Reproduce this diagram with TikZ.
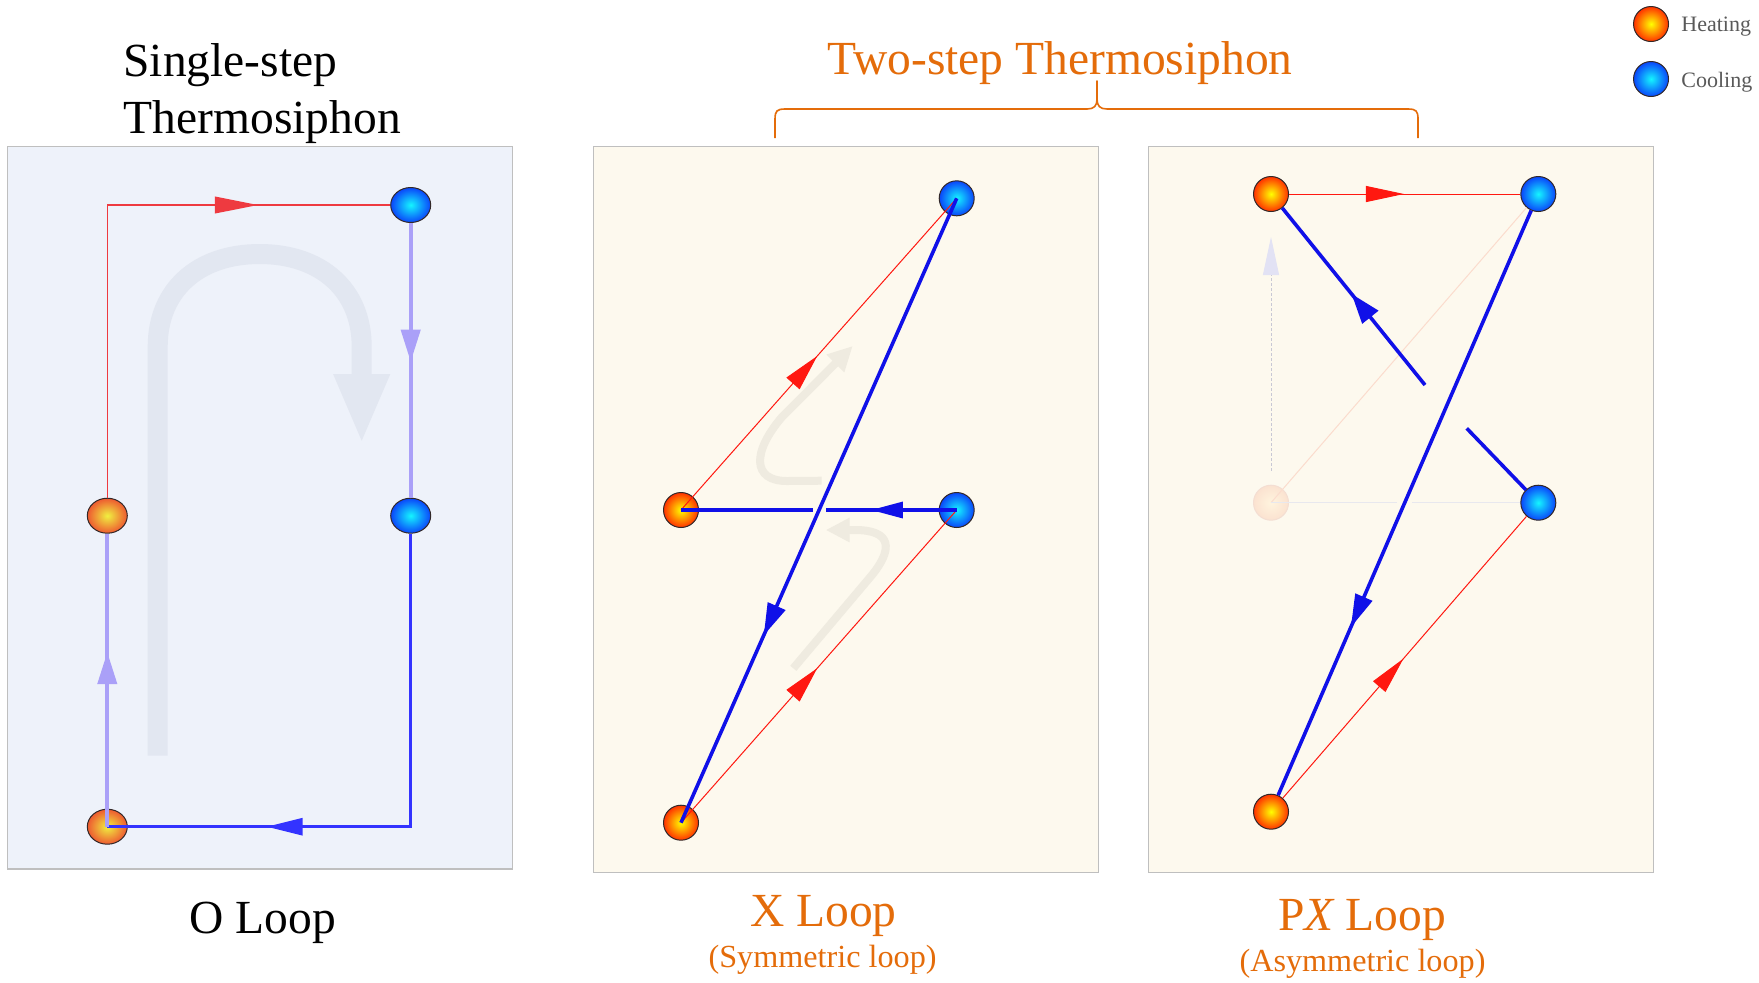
\documentclass[tikz,border=0pt]{standalone}
\usepackage{fontspec}
\setmainfont{Liberation Serif}
\usetikzlibrary{arrows.meta,decorations.markings,shapes.geometric}

\definecolor{bgO}{RGB}{238,242,250}
\definecolor{bgX}{RGB}{253,249,238}
\definecolor{frameC}{RGB}{191,191,191}
\definecolor{uarrow}{RGB}{226,231,241}
\definecolor{farrow}{RGB}{239,235,224}
\definecolor{ored}{RGB}{238,58,64}
\definecolor{lav}{RGB}{170,160,248}
\definecolor{oblue}{RGB}{51,51,255}
\definecolor{xred}{RGB}{255,24,16}
\definecolor{xblue}{RGB}{16,16,232}
\definecolor{ttl}{RGB}{228,108,10}
\definecolor{legtxt}{RGB}{89,89,89}
\definecolor{ballline}{RGB}{50,40,40}
\definecolor{hin}{RGB}{255,255,0}
\definecolor{hout}{RGB}{255,50,0}
\definecolor{hoin}{RGB}{240,240,64}
\definecolor{hoout}{RGB}{238,90,48}
\definecolor{cin}{RGB}{20,245,255}
\definecolor{cout}{RGB}{10,70,250}
\definecolor{fadein}{RGB}{255,244,222}
\definecolor{fadeout}{RGB}{251,226,208}
\definecolor{fadeline}{RGB}{244,222,210}
\definecolor{fpink}{RGB}{251,220,205}
\definecolor{fgray}{RGB}{232,232,238}
\definecolor{fdot}{RGB}{200,200,212}
\definecolor{flav}{RGB}{226,226,244}

\newcommand\BigTxt{\fontsize{23.75pt}{28pt}\selectfont}
\newcommand\SubTxt{\fontsize{16.1pt}{19pt}\selectfont}
\newcommand\LegTxt{\fontsize{11pt}{13pt}\selectfont}

\tikzset{
  ballH/.style={circle, draw=ballline, line width=0.5pt, inner sep=0pt,
    minimum size=17.5pt, inner color=hin, outer color=hout},
  ballC/.style={circle, draw=ballline, line width=0.5pt, inner sep=0pt,
    minimum size=17.5pt, inner color=cin, outer color=cout},
  ballHO/.style={ellipse, draw=ballline, line width=0.5pt, inner sep=0pt,
    minimum width=20pt, minimum height=17.5pt, inner color=hoin, outer color=hoout},
  ballCO/.style={ellipse, draw=ballline, line width=0.5pt, inner sep=0pt,
    minimum width=20pt, minimum height=17.5pt, inner color=cin, outer color=cout},
  ballF/.style={circle, draw=fadeline, line width=0.5pt, inner sep=0pt,
    minimum size=17.5pt, inner color=fadein, outer color=fadeout},
  panelO/.style={draw=frameC, line width=0.75pt, fill=bgO},
  panelX/.style={draw=frameC, line width=0.75pt, fill=bgX},
  redO/.style={ored, line width=0.6pt},
  lavO/.style={lav, line width=2pt},
  blueO/.style={oblue, line width=1.7pt},
  redX/.style={xred, line width=0.5pt},
  blueX/.style={xblue, line width=1.8pt},
  midtip/.style 2 args={postaction={decorate},
    decoration={markings, mark=at position #1 with {\arrow{#2}}}},
  ttltxt/.style={ttl, inner sep=0pt},
}

\begin{document}
\begin{tikzpicture}[x=0.5pt,y=-0.5pt]
\useasboundingbox (0,0) rectangle (1759,982);

% ---------- panels
\draw[panelO] (7.3,146.7) rectangle (512.7,869);
\draw[panelX] (593.3,146.5) rectangle (1098.3,872.3);
\draw[panelX] (1148.3,146.5) rectangle (1653.3,872.3);

% ---------- titles
\node[anchor=base west, inner sep=0pt, font=\BigTxt] (tsa) at (123,76) {Single-step};
\node[anchor=base west, inner sep=0pt, font=\BigTxt] (tsb) at (123.5,133.3) {Thermosiphon};
\node[anchor=base, ttltxt, font=\BigTxt] (ttwo) at (1060,74) {Two-step Thermosiphon};
\draw[ttl, line width=0.8pt, line join=round]
  (775,138) -- (775,119) .. controls (775,111) and (777,109) .. (785,109)
  -- (1087,109) .. controls (1094,109) and (1097,106) .. (1097,99) -- (1097,81)
  -- (1097,99) .. controls (1097,106) and (1100,109) .. (1107,109)
  -- (1408,109) .. controls (1416,109) and (1418,111) .. (1418,119) -- (1418,138);

% ---------- legend
\node[ballH] (legH) at (1651,24) {};
\node[ballC] (legC) at (1651,79) {};
\node[anchor=base west, inner sep=0pt, legtxt, font=\LegTxt] (legHt) at (1681,31) {Heating};
\node[anchor=base west, inner sep=0pt, legtxt, font=\LegTxt] (legCt) at (1681,87) {Cooling};

% ---------- bottom labels
\node[anchor=base, inner sep=0pt, font=\BigTxt] (labO) at (263,933) {O Loop};
\node[anchor=base, ttltxt, font=\BigTxt] (labX) at (823.3,926) {X Loop};
\node[anchor=base, ttltxt, font=\SubTxt] (subX) at (822.6,967) {(Symmetric loop)};
\node[anchor=base, ttltxt, font=\BigTxt] (labP) at (1362,930) {P{\itshape X} Loop};
\node[anchor=base, ttltxt, font=\SubTxt] (subP) at (1362.5,971) {(Asymmetric loop)};

% ================= O loop
\draw[uarrow, line width=10pt, -{Triangle[length=35pt,width=25.6pt]}]
  (157.7,755.7) -- (157.7,346.7)
  .. controls (157.7,290) and (198,254) .. (259.7,254)
  .. controls (321,254) and (361.7,290) .. (361.7,346.7) -- (361.7,444);

\node[ballCO] (oC1) at (410.7,205) {};
\node[ballHO] (oH2) at (107.3,515.7) {};
\node[ballCO] (oC2) at (410.7,515.7) {};
\node[ballHO] (oH1) at (107.3,826.7) {};

\draw[redO, midtip={0.77}{Triangle[length=21.5pt,width=8.4pt]}] (oH2) |- (oC1);
\draw[lavO, midtip={0.505}{Triangle[length=16pt,width=9.5pt]}] (oC1) -- (oC2);
\draw[blueO, midtip={0.733}{Triangle[length=18pt,width=8.4pt]}] (oC2) |- (oH1.center);
\draw[lavO, midtip={0.596}{Triangle[length=16pt,width=9.5pt]}] (oH1.center) -- (oH2);

% ================= X loop
\draw[farrow, line width=4pt, -{Triangle[length=12.3pt,width=11.7pt]}]
  (821.7,480.7) -- (787,481) .. controls (752,481) and (752,452) .. (782,417) -- (852.7,346);
\draw[farrow, line width=4pt, -{Triangle[length=12pt,width=11.5pt]}]
  (793.3,668.3) -- (872,575) .. controls (893,549) and (892,530) .. (855,530) -- (825.7,530);

\node[ballC] (xCT) at (956.7,198.3) {};
\node[ballH] (xHM) at (681,510) {};
\node[ballC] (xCM) at (956.7,510) {};
\node[ballH] (xHB) at (681,822.7) {};
\coordinate (xgR) at (825.7,510);
\coordinate (xgL) at (812.7,510);

\draw[redX, midtip={0.494}{Triangle[length=18.3pt,width=8.7pt]}] (xHM.center) -- (xCT.center);
\draw[redX, midtip={0.494}{Triangle[length=18.3pt,width=8.7pt]}] (xHB.center) -- (xCM.center);
\draw[blueX, midtip={0.656}{Triangle[length=16pt,width=7.9pt]}] (xCM.center) -- (xgR);
\draw[blueX] (xgL) -- (xHM.center);
\draw[blueX, midtip={0.70}{Triangle[length=16pt,width=9.3pt]}] (xCT.center) -- (xHB.center);

% ================= PX loop
\node[ballH] (pHT) at (1271,194) {};
\node[ballC] (pCT) at (1538.3,194) {};
\node[ballF] (pHF) at (1271,502.7) {};
\node[ballC] (pCM) at (1538.3,502.7) {};
\node[ballH] (pHB) at (1271,811.7) {};
\coordinate (pA) at (1466.7,428.3);
\coordinate (pB) at (1425,385);
\coordinate (pg1) at (1396.7,502.7);
\coordinate (pg2) at (1411.7,502.7);

% faint elements
\draw[fpink, line width=0.5pt] (pHF.center) -- (pCT);
\draw[fgray, line width=0.75pt] (pHF.center) -- (pg1);
\draw[fgray, line width=0.75pt] (pg2) -- (pCM);
\draw[fdot, line width=0.5pt, dash pattern=on 1.5pt off 1pt,
  shorten <=7pt, shorten >=12.5pt,
  -{Triangle[length=19pt,width=8pt,color=flav,fill=flav]}] (pHF) -- (pHT);

\draw[redX, midtip={0.497}{Triangle[length=19pt,width=8pt]}] (pHT) -- (pCT);
\draw[redX, midtip={0.495}{Triangle[length=18.5pt,width=8.1pt]}] (pHB) -- (pCM);
\draw[blueX, midtip={0.713}{Triangle[length=16.5pt,width=8.9pt]}] (pCT) -- (pHB);
\draw[blueX] (pCM) -- (pA);
\draw[blueX, midtip={0.515}{Triangle[length=15pt,width=10pt]}] (pB) -- (pHT);

\end{tikzpicture}
\end{document}
